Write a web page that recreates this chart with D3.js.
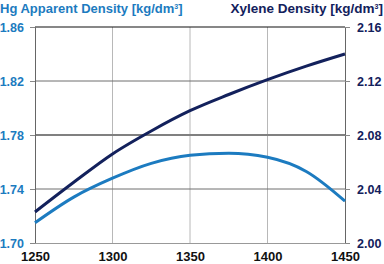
<!DOCTYPE html>
<html>
<head>
<meta charset="utf-8">
<script src="https://cdn.jsdelivr.net/npm/d3@7"></script>
<style>
  body { margin: 0; background: #fff; }
  text { font-family: "Liberation Sans", Arial, sans-serif; font-weight: bold; }
</style>
</head>
<body>
<div id="chart"></div>
<script>
// data
const temps = [1250, 1275, 1300, 1325, 1350, 1375, 1400, 1425, 1450];
const hgDensity = [1.715, 1.734, 1.748, 1.759, 1.765, 1.7665, 1.7635, 1.753, 1.731];
const xyleneDensity = [2.023, 2.045, 2.066, 2.083, 2.098, 2.110, 2.121, 2.131, 2.140];
const xTicks = [1250, 1300, 1350, 1400, 1450];
const leftTicks = [1.70, 1.74, 1.78, 1.82, 1.86];
const rightTicks = [2.00, 2.04, 2.08, 2.12, 2.16];

const width = 384, height = 264;
const plotL = 35, plotR = 345, plotT = 27, plotB = 243;

const navy = "#13215c";
const blue = "#1c7bc0";

const svg = d3.select("#chart").append("svg").attr("width", width).attr("height", height);

const x = d3.scaleLinear().domain([1250, 1450]).range([plotL, plotR]);
const yL = d3.scaleLinear().domain([1.70, 1.86]).range([plotB, plotT]);
const yR = d3.scaleLinear().domain([2.00, 2.16]).range([plotB, plotT]);

// grid
svg.append("g").selectAll("line").data(xTicks.slice(1, -1)).enter().append("line")
  .attr("x1", d => x(d)).attr("x2", d => x(d))
  .attr("y1", plotT).attr("y2", plotB)
  .attr("stroke", "#b8b8b8").attr("stroke-width", 1);

svg.append("g").selectAll("line").data(leftTicks.slice(1, -1)).enter().append("line")
  .attr("x1", plotL).attr("x2", plotR)
  .attr("y1", d => yL(d)).attr("y2", d => yL(d))
  .attr("stroke", (d, i) => i == 1 ? "#808080" : "#6e6e6e")
  .attr("stroke-width", (d, i) => i == 1 ? 2 : 1);

// frame top
svg.append("line").attr("x1", plotL).attr("x2", plotR).attr("y1", plotT).attr("y2", plotT)
  .attr("stroke", "#111").attr("stroke-width", 1.2);

// axes
const axL = svg.append("g").attr("transform", "translate(" + plotL + ",0)")
  .call(d3.axisLeft(yL).tickValues(leftTicks).tickFormat(d3.format(".2f")).tickSize(5).tickPadding(6));
const axR = svg.append("g").attr("transform", "translate(" + plotR + ",0)")
  .call(d3.axisRight(yR).tickValues(rightTicks).tickFormat(d3.format(".2f")).tickSize(5).tickPadding(7));
const axB = svg.append("g").attr("transform", "translate(0," + plotB + ")")
  .call(d3.axisBottom(x).tickValues(xTicks).tickFormat(d3.format("d")).tickSize(0).tickPadding(9));

[axL, axR, axB].forEach(a => {
  a.select(".domain").attr("stroke", "#666");
  a.selectAll(".tick line").attr("stroke", "#888");
  a.selectAll("text").style("font-size", "12.5px");
});
axB.select(".domain").attr("stroke", "#999");
axB.selectAll("text").style("font-size", "13px");
axL.selectAll("text").attr("fill", blue);
axR.selectAll("text").attr("fill", navy);
axB.selectAll("text").attr("fill", "#111");

// lines
const lineL = d3.line().x((d, i) => x(temps[i])).y(d => yL(d)).curve(d3.curveMonotoneX);
const lineR = d3.line().x((d, i) => x(temps[i])).y(d => yR(d)).curve(d3.curveMonotoneX);

svg.append("path").datum(hgDensity).attr("d", lineL)
  .attr("fill", "none").attr("stroke", blue).attr("stroke-width", 3);
svg.append("path").datum(xyleneDensity).attr("d", lineR)
  .attr("fill", "none").attr("stroke", navy).attr("stroke-width", 3);

// titles
const tL = svg.append("text").attr("x", 0).attr("y", 13).attr("fill", blue).style("font-size", "13px");
tL.append("tspan").text("Hg Apparent Density [kg/dm");
tL.append("tspan").text("3").attr("dy", -4).style("font-size", "7px");
tL.append("tspan").text("]").attr("dy", 4);

const tR = svg.append("text").attr("x", 383).attr("y", 13).attr("fill", navy)
  .attr("text-anchor", "end").style("font-size", "13.5px");
tR.append("tspan").text("Xylene Density [kg/dm");
tR.append("tspan").text("3").attr("dy", -4).style("font-size", "7px");
tR.append("tspan").text("]").attr("dy", 4);
</script>
</body>
</html>
